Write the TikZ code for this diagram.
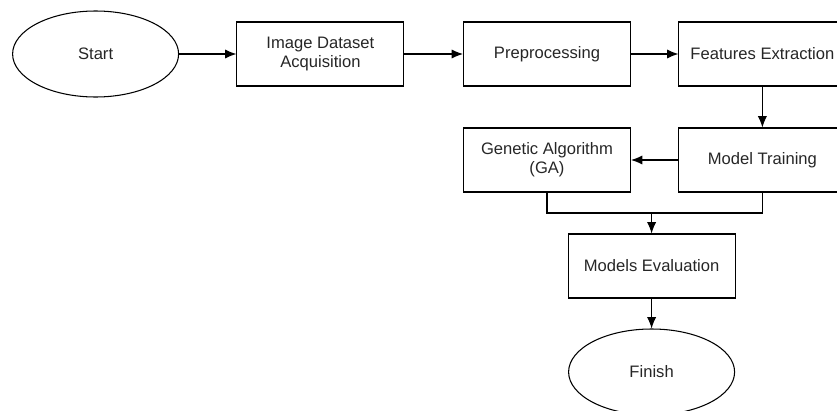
\documentclass[tikz,border=0pt]{standalone}
\usepackage{fontspec}
\setmainfont{Liberation Sans}
\usetikzlibrary{arrows.meta,shapes.geometric}

\begin{document}
\begin{tikzpicture}[
  font = \fontsize{11.8}{13.4}\selectfont,
  box/.style = {draw, line width=0.75pt, minimum width=4.175cm, minimum height=1.6cm, align=center, text=black!85},
  terminal/.style = {draw, ellipse, line width=0.75pt, minimum width=4.15cm, minimum height=2.15cm, text=black!85},
  flow/.style = {line width=0.75pt, -{Latex[length=8pt,width=6.5pt]}},
  mergeline/.style = {line width=0.75pt}
]
\useasboundingbox[clip] (0,0) rectangle (20.925,-10.275);

\node[terminal] (start)   at (2.39,-1.35)   {Start};
\node[box]      (acquire) at (8.01,-1.35)   {Image Dataset\\Acquisition};
\node[box]      (prep)    at (13.675,-1.35) {Preprocessing};
\node[box]      (feat)    at (19.06,-1.35)  {Features Extraction};
\node[box]      (train)   at (19.06,-4.0)   {Model Training};
\node[box]      (ga)      at (13.675,-4.0)  {Genetic Algorithm\\(GA)};
\node[box]      (eval)    at (16.29,-6.65)  {Models Evaluation};
\node[terminal] (finish)  at (16.29,-9.3)   {Finish};

\draw[flow] (start) -- (acquire);
\draw[flow] (acquire) -- (prep);
\draw[flow] (prep) -- (feat);
\draw[flow] (feat) -- (train);
\draw[flow] (train) -- (ga);

% both branches meet above the evaluation step
\coordinate (merge) at (eval.north |- 0,-5.325);
\draw[mergeline] (ga.south) |- (merge) -| (train.south);
\draw[flow] (merge) -- (eval);
\draw[flow] (eval) -- (finish);
\end{tikzpicture}
\end{document}
